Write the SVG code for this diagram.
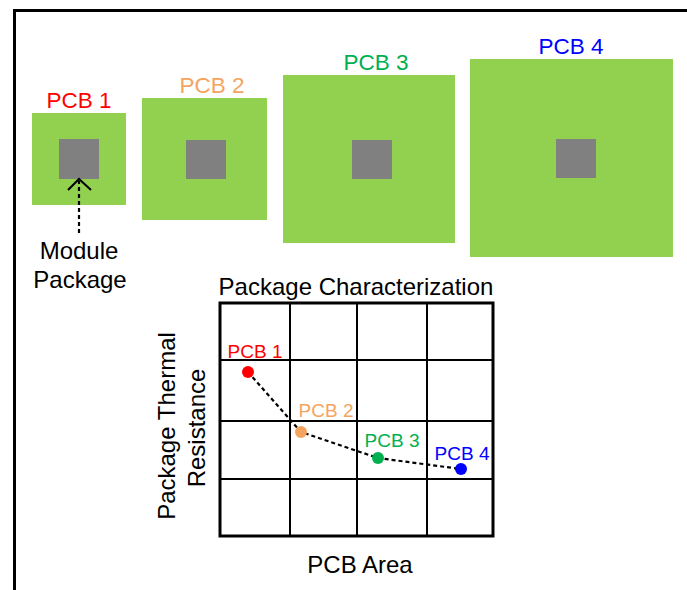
<svg xmlns="http://www.w3.org/2000/svg" width="687" height="590" viewBox="0 0 687 590">
<style>
text{font-family:"Liberation Sans",Arial,sans-serif;}
.big{font-size:24px;fill:#000;text-anchor:middle;}
.lbl{font-size:22.5px;text-anchor:middle;}
.sm{font-size:19px;text-anchor:middle;}
.board{fill:#92D050;}
.pkg{fill:#808080;}
.grid{fill:none;stroke:#000;stroke-width:2;}
.dash{fill:none;stroke:#000;stroke-width:2.2;stroke-dasharray:4 3;}
.red{fill:#FF0000;}
.orange{fill:#F4A460;}
.green{fill:#00B050;}
.blue{fill:#0000FF;}
</style>
<rect x="0" y="0" width="687" height="590" fill="#fff"/>
<rect x="14.5" y="10.5" width="700" height="620" fill="none" stroke="#000" stroke-width="3"/>

<g id="pcb1">
<rect class="board" x="32" y="113" width="94" height="92"/>
<rect class="pkg" x="59" y="139" width="40" height="40"/>
<text class="lbl red" x="79" y="108">PCB 1</text>
</g>
<g id="pcb2">
<rect class="board" x="142" y="98" width="125" height="122"/>
<rect class="pkg" x="186" y="140" width="40" height="39"/>
<text class="lbl orange" x="212" y="93">PCB 2</text>
</g>
<g id="pcb3">
<rect class="board" x="283" y="75" width="172" height="168"/>
<rect class="pkg" x="352" y="140" width="40" height="39"/>
<text class="lbl green" x="376" y="70">PCB 3</text>
</g>
<g id="pcb4">
<rect class="board" x="470" y="59" width="203" height="198"/>
<rect class="pkg" x="556" y="139" width="40" height="39"/>
<text class="lbl blue" x="571" y="54">PCB 4</text>
</g>
<g id="module-label">
<text class="big" x="79" y="259">Module</text>
<text class="big" x="80" y="288">Package</text>
</g>

<g id="chart">
<text class="big" x="356" y="295">Package Characterization</text>
<rect x="220" y="303" width="273" height="233" fill="none" stroke="#000" stroke-width="3"/>
<path class="grid" d="M290 303V536M357 303V536M427 303V536M220 360H493M220 421H493M220 479H493"/>
<text class="big" x="360" y="573">PCB Area</text>
<text class="big" transform="translate(175,426) rotate(-90)" x="0" y="0">Package Thermal</text>
<text class="big" transform="translate(205,428) rotate(-90)" x="0" y="0">Resistance</text>
</g>

<g id="connectors">
<path class="dash" d="M79 233V181"/>
<path d="M68 190L79 179L91 190" fill="none" stroke="#000" stroke-width="2"/>
<path class="dash" d="M248 372L293 423L301 432L378 458L461 469"/>
</g>

<g id="points">
<circle class="red" cx="248" cy="372" r="6"/>
<circle class="orange" cx="301" cy="432" r="6"/>
<circle class="green" cx="378" cy="458" r="6"/>
<circle class="blue" cx="461" cy="469" r="6"/>
<text class="sm red" x="255" y="358">PCB 1</text>
<text class="sm orange" x="326" y="417">PCB 2</text>
<text class="sm green" x="392" y="447">PCB 3</text>
<text class="sm blue" x="462" y="460">PCB 4</text>
</g>
</svg>
